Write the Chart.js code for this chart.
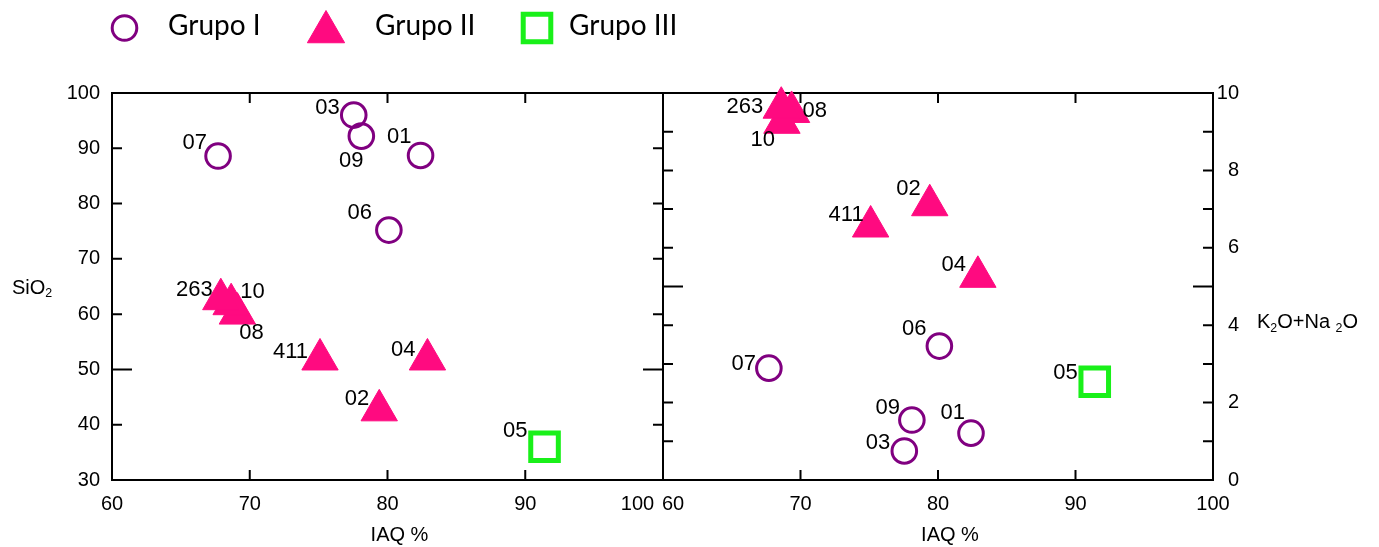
<!DOCTYPE html>
<html>
<head>
<meta charset="utf-8">
<title>SiO2 y K2O+Na2O frente a IAQ %</title>
<script src="https://cdn.jsdelivr.net/npm/chart.js@4/dist/chart.umd.min.js"></script>
<style>
  html, body { margin: 0; padding: 0; background: #fff; }
  #wrap { position: relative; width: 1379px; height: 547px; overflow: hidden; }
  .panel { position: absolute; top: 0; }
  #pA { left: 0; }
  #pB { left: 620px; }
</style>
</head>
<body>
<div id="wrap">
  <div class="panel" id="pA"><canvas id="cA" width="720" height="547"></canvas></div>
  <div class="panel" id="pB"><canvas id="cB" width="759" height="547"></canvas></div>
</div>
<script>
// ---- data ----
const groupNames = ['Grupo I', 'Grupo II', 'Grupo III'];

// Grupo I
const idsI   = ['01', '03', '06', '07', '09'];
const iaqI   = [82.4, 77.55, 80.1, 67.7, 78.1];
const sio2I  = [88.7, 96.0, 75.2, 88.6, 92.2];
const alkI   = [1.21, 0.75, 3.46, 2.89, 1.55];

// Grupo II
const idsII      = ['02', '04', '08', '10', '263', '411'];
const iaqIIsio2  = [79.4, 82.9, 69.1, 68.65, 67.9, 75.1];
const sio2II     = [42.6, 51.8, 60.1, 61.8, 62.7, 51.8];
const iaqIIalk   = [79.4, 82.9, 69.35, 68.65, 68.6, 75.1];
const alkII      = [7.10, 5.25, 9.51, 9.23, 9.62, 6.55];

// Grupo III
const idsIII  = ['05'];
const iaqIII  = [91.4];
const sio2III = [36.0];
const alkIII  = [2.54];

// axis ticks
const iaqTickLabels   = ['60', '70', '80', '90', '100'];
const iaqMarks        = [70, 80, 90];
const sio2TickLabels  = ['30', '40', '50', '60', '70', '80', '90', '100'];
const sio2Marks       = [40, 50, 60, 70, 80, 90];
const sio2LongMarks   = [50];
const alkTickLabels   = ['0', '2', '4', '6', '8', '10'];
const alkMarks        = [1, 2, 3, 4, 5, 6, 7, 8, 9];
const alkLongMarks    = [5];

// label placement next to each marker: [dx, dy, textAlign]
const placeSio2I   = [[-9, -19, 'right'], [-14, -7, 'right'], [-17, -17, 'right'], [-11, -13, 'right'], [-10, 25, 'center']];
const placeSio2II  = [[-10, -11, 'right'], [-12, -10, 'right'], [2, 19, 'left'], [9, -12, 'left'], [-8, -9, 'right'], [-12, -8, 'right']];
const placeSio2III = [[-17, -16, 'right']];
const placeAlkI    = [[-6, -20, 'right'], [-14, -8, 'right'], [-13, -17, 'right'], [-13, -4, 'right'], [-12, -12, 'right']];
const placeAlkII   = [[-9, -16, 'right'], [-12, -12, 'right'], [11, -1, 'left'], [-7, 17, 'right'], [-18, -1, 'right'], [-7, -12, 'right']];
const placeAlkIII  = [[-17, -9, 'right']];

// ---- styles ----
const FONT = "'Liberation Sans', Arial, sans-serif";
const PURPLE = '#800080';
const PINK = '#ff0a80';
const GREEN = '#19f019';
const CLEAR = 'rgba(0,0,0,0)';

const groupStyles = [
  { pointStyle: 'circle',   pointRadius: 12.3, pointBorderWidth: 3, pointBorderColor: PURPLE, pointBackgroundColor: CLEAR },
  { pointStyle: 'triangle', pointRadius: 21,   pointBorderWidth: 1, pointBorderColor: PINK,   pointBackgroundColor: PINK },
  { pointStyle: 'rect',     pointRadius: 19.5, pointBorderWidth: 5, pointBorderColor: GREEN,  pointBackgroundColor: CLEAR }
];

Chart.defaults.color = '#000';
Chart.defaults.font.family = FONT;

function makeDataset(gi, xs, ys, ids, place) {
  const st = groupStyles[gi];
  return Object.assign({
    label: groupNames[gi],
    data: xs.map((x, i) => ({ x: x, y: ys[i] })),
    pointIds: ids,
    labelPlace: place,
    showLine: false,
    clip: false,
    pointHoverRadius: st.pointRadius,
    pointHoverBorderWidth: st.pointBorderWidth
  }, st);
}

// draws text with subscript parts, e.g. [['SiO', false], ['2', true]]
function drawRichText(ctx, parts, x, y, size) {
  ctx.save();
  ctx.fillStyle = '#000';
  ctx.textBaseline = 'middle';
  ctx.textAlign = 'left';
  let cx = x;
  for (const [t, sub] of parts) {
    const s = sub ? size * 0.62 : size;
    ctx.font = s + 'px ' + FONT;
    ctx.fillText(t, cx, sub ? y + size * 0.3 : y);
    cx += ctx.measureText(t).width;
  }
  ctx.restore();
}

// frame, inward tick marks, point labels, axis titles
const framePlugin = {
  id: 'frame',
  beforeDatasetsDraw(chart, args, o) {
    const { ctx, chartArea: a, scales } = chart;
    ctx.save();
    ctx.strokeStyle = '#000';
    ctx.lineWidth = 2;
    ctx.strokeRect(a.left, a.top, a.right - a.left, a.bottom - a.top);
    ctx.beginPath();
    for (const v of o.xMarks) {
      const px = scales.x.getPixelForValue(v);
      ctx.moveTo(px, a.top); ctx.lineTo(px, a.top + 10);
      ctx.moveTo(px, a.bottom); ctx.lineTo(px, a.bottom - 10);
    }
    for (const v of o.yMarks) {
      const py = scales.y.getPixelForValue(v);
      const len = o.yLong.includes(v) ? 20 : 10;
      ctx.moveTo(a.left, py); ctx.lineTo(a.left + len, py);
      ctx.moveTo(a.right, py); ctx.lineTo(a.right - len, py);
    }
    ctx.stroke();
    ctx.restore();
  },
  afterDatasetsDraw(chart) {
    const ctx = chart.ctx;
    ctx.save();
    ctx.fillStyle = '#000';
    ctx.font = '22px ' + FONT;
    ctx.textBaseline = 'middle';
    chart.data.datasets.forEach((ds, di) => {
      const meta = chart.getDatasetMeta(di);
      meta.data.forEach((pt, j) => {
        const [dx, dy, align] = ds.labelPlace[j];
        ctx.textAlign = align;
        ctx.fillText(ds.pointIds[j], pt.x + dx, pt.y + dy);
      });
    });
    ctx.restore();
  },
  afterDraw(chart, args, o) {
    const { ctx, chartArea: a } = chart;
    const midY = (a.top + a.bottom) / 2;
    // x title
    ctx.save();
    ctx.fillStyle = '#000';
    ctx.font = '20px ' + FONT;
    ctx.textAlign = 'center';
    ctx.textBaseline = 'middle';
    ctx.fillText(o.xTitle, (a.left + a.right) / 2 + 12, 535);
    ctx.restore();
    // y title
    if (o.ySide === 'left') {
      drawRichText(ctx, o.yTitle, 12, midY + 1.5, 20);
    } else {
      drawRichText(ctx, o.yTitle, a.right + 44, midY + 36, 20);
    }
    // legend
    if (o.legend) {
      const lx = [124.5, 326, 537];
      const tx = [168, 375, 569];
      chart.data.datasets.forEach((ds, i) => {
        ctx.save();
        ctx.strokeStyle = ds.pointBorderColor;
        ctx.fillStyle = ds.pointBackgroundColor;
        ctx.lineWidth = ds.pointBorderWidth;
        const r = ds.pointStyle === 'triangle' ? 21.5 : ds.pointRadius;
        const cy = ds.pointStyle === 'triangle' ? 32 : 28;
        Chart.helpers.drawPoint(ctx, { pointStyle: ds.pointStyle, radius: r, rotation: 0, borderWidth: ds.pointBorderWidth }, lx[i], cy);
        ctx.restore();
        ctx.save();
        ctx.fillStyle = '#000';
        ctx.font = "28px Lato, 'Open Sans', sans-serif";
        ctx.textAlign = 'left';
        ctx.textBaseline = 'alphabetic';
        ctx.fillText(ds.label, tx[i], 35);
        ctx.restore();
      });
    }
  }
};

const tickFont = { size: 20, family: FONT };

// ---- left panel: SiO2 ----
const leftXLabels = iaqTickLabels.map((t, i, arr) => i === arr.length - 1 ? t + '\u2003\u2003  ' : t);
new Chart(document.getElementById('cA'), {
  type: 'scatter',
  data: {
    datasets: [
      makeDataset(0, iaqI, sio2I, idsI, placeSio2I),
      makeDataset(1, iaqIIsio2, sio2II, idsII, placeSio2II),
      makeDataset(2, iaqIII, sio2III, idsIII, placeSio2III)
    ]
  },
  options: {
    responsive: false,
    animation: false,
    events: [],
    layout: { padding: { top: 93, right: 57, left: 0, bottom: 0 } },
    plugins: {
      legend: { display: false },
      tooltip: { enabled: false },
      frame: {
        xMarks: iaqMarks, yMarks: sio2Marks, yLong: sio2LongMarks,
        xTitle: 'IAQ %', yTitle: [['SiO', false], ['2', true]], ySide: 'left', legend: true
      }
    },
    scales: {
      x: {
        type: 'linear', min: 60, max: 100,
        grid: { display: false, drawTicks: false },
        border: { display: false },
        ticks: { stepSize: 10, padding: 12, font: tickFont, maxRotation: 0,
                 callback: (v, i) => leftXLabels[i] },
        afterFit: s => { s.height = 67; }
      },
      y: {
        type: 'linear', min: 30, max: 100,
        grid: { display: false, drawTicks: false },
        border: { display: false },
        ticks: { stepSize: 10, padding: 12, font: tickFont,
                 callback: (v, i) => sio2TickLabels[i] },
        afterFit: s => { s.width = 112; }
      }
    }
  },
  plugins: [framePlugin]
});

// ---- right panel: K2O+Na2O ----
const rightXLabels = iaqTickLabels.map((t, i) => i === 0 ? '\u2003' + t : t);
new Chart(document.getElementById('cB'), {
  type: 'scatter',
  data: {
    datasets: [
      makeDataset(0, iaqI, alkI, idsI, placeAlkI),
      makeDataset(1, iaqIIalk, alkII, idsII, placeAlkII),
      makeDataset(2, iaqIII, alkIII, idsIII, placeAlkIII)
    ]
  },
  options: {
    responsive: false,
    animation: false,
    events: [],
    layout: { padding: { top: 93, right: 140, left: 43, bottom: 0 } },
    plugins: {
      legend: { display: false },
      tooltip: { enabled: false },
      frame: {
        xMarks: iaqMarks, yMarks: alkMarks, yLong: alkLongMarks,
        xTitle: 'IAQ %', yTitle: [['K', false], ['2', true], ['O+Na ', false], ['2', true], ['O', false]], ySide: 'right', legend: false
      }
    },
    scales: {
      x: {
        type: 'linear', min: 60, max: 100,
        grid: { display: false, drawTicks: false },
        border: { display: false },
        ticks: { stepSize: 10, padding: 12, font: tickFont, maxRotation: 0,
                 callback: (v, i) => rightXLabels[i] },
        afterFit: s => { s.height = 67; }
      },
      y: {
        type: 'linear', position: 'right', min: 0, max: 10,
        grid: { display: false, drawTicks: false },
        border: { display: false },
        ticks: { stepSize: 2, padding: 4, crossAlign: 'far', font: tickFont,
                 callback: (v, i) => alkTickLabels[i] },
        afterFit: s => { s.width = 26; }
      }
    }
  },
  plugins: [framePlugin]
});
</script>
</body>
</html>
